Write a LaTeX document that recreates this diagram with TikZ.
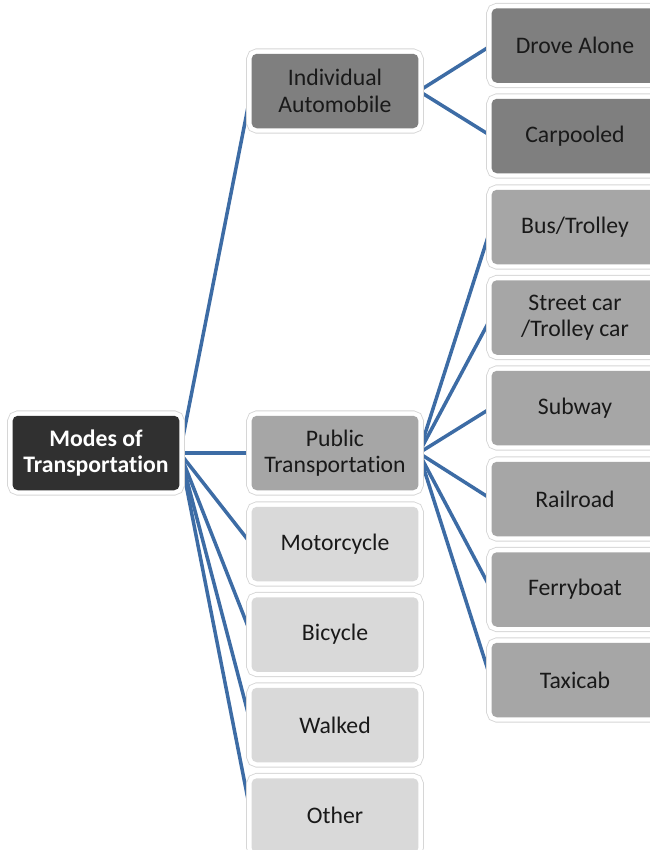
\documentclass[tikz,border=0pt]{standalone}
\usepackage{fontspec}
\setmainfont{Carlito}[Ligatures=NoCommon]
\usepackage{tikz}
\usetikzlibrary{backgrounds}
\usepackage{xcolor}
\definecolor{linkblue}{RGB}{61,108,165}
\definecolor{rootgray}{RGB}{48,48,48}
\definecolor{midgray}{RGB}{127,127,127}
\definecolor{pubgray}{RGB}{166,166,166}
\definecolor{palegray}{RGB}{217,217,217}
\definecolor{framegray}{RGB}{214,214,214}

\begin{document}
\begin{tikzpicture}[x=0.02cm,y=-0.02cm,font=\fontsize{13.5}{15}\selectfont,
  box/.style={rectangle,rounded corners=3pt,minimum width=3.34cm,minimum height=1.49cm,
    align=center,text=black!90,inner sep=2pt,
    preaction={draw=framegray,line width=6pt},
    preaction={draw=white,line width=5pt}},
  link/.style={draw=linkblue,line width=2pt}]
\clip (0,0) rectangle (650,850);
% root
\node[box,fill=rootgray,text=white,font=\bfseries\fontsize{13.5}{15}\selectfont] (root) at (96,453) {Modes of\\Transportation};
% middle column
\node[box,fill=midgray] (auto) at (335,91) {Individual\\Automobile};
\node[box,fill=pubgray] (public) at (335,453) {Public\\Transportation};
\node[box,fill=palegray] (moto) at (335,544) {Motorcycle};
\node[box,fill=palegray] (bike) at (335,634.5) {Bicycle};
\node[box,fill=palegray] (walk) at (335,725) {Walked};
\node[box,fill=palegray] (other) at (335,815.5) {Other};
% right column
\node[box,fill=midgray] (alone) at (575,45.5) {Drove Alone};
\node[box,fill=midgray] (carpool) at (575,136) {Carpooled};
\node[box,fill=pubgray] (bus) at (575,227) {Bus/Trolley};
\node[box,fill=pubgray] (street) at (575,317.5) {Street car\\/Trolley car};
\node[box,fill=pubgray] (subway) at (575,408) {Subway};
\node[box,fill=pubgray] (rail) at (575,499) {Railroad};
\node[box,fill=pubgray] (ferry) at (575,589.5) {Ferryboat};
\node[box,fill=pubgray] (taxi) at (575,680) {Taxicab};
% connectors
\begin{scope}[on background layer]
\draw[link] (root.east) -- (auto.west);
\draw[link] (root.east) -- (public.west);
\draw[link] (root.east) -- (moto.west);
\draw[link] (root.east) -- (bike.west);
\draw[link] (root.east) -- (walk.west);
\draw[link] (root.east) -- (other.west);
\draw[link] (auto.east) -- (alone.west);
\draw[link] (auto.east) -- (carpool.west);
\draw[link] (public.east) -- (bus.west);
\draw[link] (public.east) -- (street.west);
\draw[link] (public.east) -- (subway.west);
\draw[link] (public.east) -- (rail.west);
\draw[link] (public.east) -- (ferry.west);
\draw[link] (public.east) -- (taxi.west);
\end{scope}
\end{tikzpicture}
\end{document}
